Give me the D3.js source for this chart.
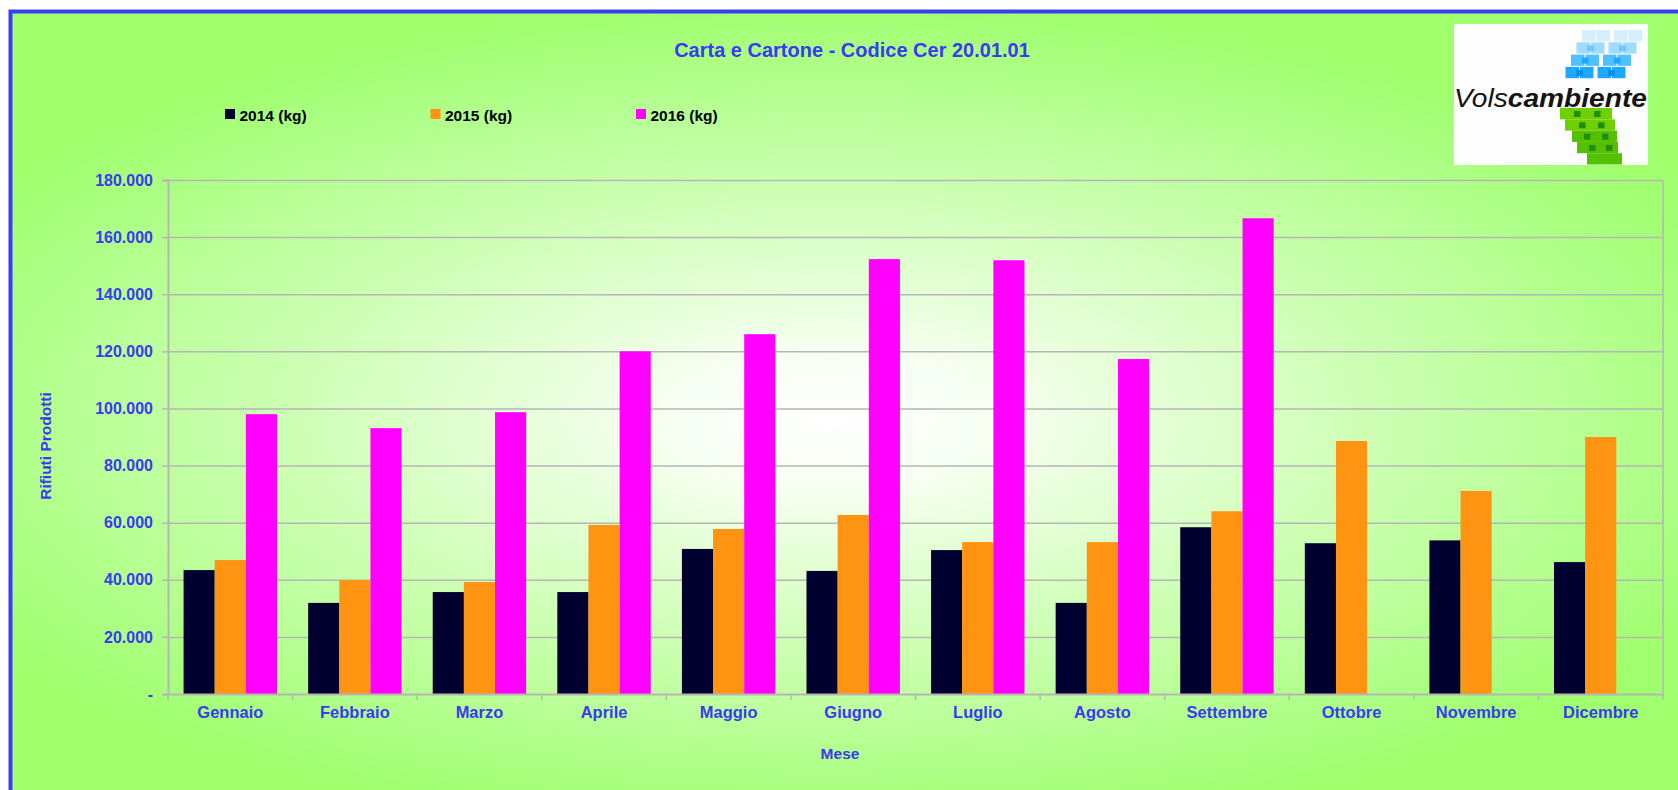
<!DOCTYPE html>
<html>
<head>
<meta charset="utf-8">
<script src="https://cdn.jsdelivr.net/npm/d3@7"></script>
<style>
  body { margin: 0; background: #fff; }
  svg { display: block; font-family: "Liberation Sans", Arial, sans-serif; }
</style>
</head>
<body>
<svg id="chart" width="1678" height="790"></svg>
<script>
// data (kg)
const months = ["Gennaio", "Febbraio", "Marzo", "Aprile", "Maggio", "Giugno",
                "Luglio", "Agosto", "Settembre", "Ottobre", "Novembre", "Dicembre"];
const series = ["2014 (kg)", "2015 (kg)", "2016 (kg)"];
const v2014 = [43400, 31900, 35700, 35700, 50800, 43100, 50400, 31900, 58400, 52800, 53800, 46200];
const v2015 = [46900, 39900, 39200, 59200, 57800, 62700, 53200, 53200, 64000, 88600, 71100, 90000];
const v2016 = [98000, 93100, 98700, 120000, 126000, 152300, 151900, 117300, 166600, null, null, null];
const yTicks = [0, 20000, 40000, 60000, 80000, 100000, 120000, 140000, 160000, 180000];
const colors = ["#000030", "#ff9412", "#ff00ff"];

const blue = "#3a3af2", grid = "#b6b6b6";

let svg = d3.select("svg#chart");

// background gradient
let defs = svg.append("defs");
let rg = defs.append("radialGradient")
    .attr("id", "bg")
    .attr("gradientUnits", "userSpaceOnUse")
    .attr("cx", 0).attr("cy", 0).attr("r", 1)
    .attr("gradientTransform", "translate(830,420) scale(1000,420)");
[[0, "#ffffff"], [0.15, "#f8fff3"], [0.5, "#d2ffbb"], [0.85, "#adff85"], [1, "#9fff6c"]]
    .forEach(s => rg.append("stop").attr("offset", s[0]).attr("stop-color", s[1]));

svg.append("rect")
    .attr("x", 10.5).attr("y", 11.5)
    .attr("width", 1800).attr("height", 900)
    .attr("fill", "url(#bg)")
    .attr("stroke", "#3c3cf6")
    .attr("stroke-width", 4);

let x0 = d3.scaleBand().domain(months).range([168, 1663]);
let bw = x0.bandwidth();
let x1 = d3.scaleBand().domain(series).range([bw / 8, bw * 7 / 8]);
let y = d3.scaleLinear().domain([0, 180000]).range([694, 180]);

let loc = d3.formatLocale({ decimal: ",", thousands: ".", grouping: [3], currency: ["", ""] });
let fmt = loc.format(",d");

// gridlines
svg.append("g")
    .attr("transform", "translate(168,0)")
    .call(d3.axisLeft(y).tickValues(yTicks.slice(1)).tickSize(-(1663 - 168)).tickFormat(""))
    .call(g => g.select(".domain").remove())
    .selectAll("line").attr("stroke", grid).attr("stroke-width", 1.5);

// right border of plot area
svg.append("line")
    .attr("x1", 1663).attr("x2", 1663)
    .attr("y1", y(180000)).attr("y2", y(0))
    .attr("stroke", grid).attr("stroke-width", 1.5);

// bars
let table = months.map((m, i) => ({ month: m, values: [v2014[i], v2015[i], v2016[i]] }));
let group = svg.selectAll(".month")
    .data(table)
    .enter()
    .append("g")
    .attr("class", "month")
    .attr("transform", d => `translate(${x0(d.month)},0)`);
group.selectAll("rect")
    .data(d => d.values.map((v, k) => ({ key: series[k], value: v, k: k })).filter(d => d.value != null))
    .enter()
    .append("rect")
    .attr("x", d => x1(d.key))
    .attr("width", x1.bandwidth())
    .attr("y", d => y(d.value))
    .attr("height", d => y(0) - y(d.value))
    .attr("fill", d => colors[d.k]);

// y axis
let yAxis = svg.append("g")
    .attr("transform", "translate(168,0)")
    .call(d3.axisLeft(y).tickValues(yTicks).tickSize(6).tickPadding(9)
        .tickFormat(d => d === 0 ? "-" : fmt(d)));
yAxis.select(".domain").attr("stroke", grid).attr("stroke-width", 2);
yAxis.selectAll("line").attr("stroke", grid).attr("stroke-width", 1.5);
yAxis.selectAll("text")
    .attr("fill", blue)
    .style("font-size", "16px")
    .style("font-weight", "bold");

// x axis
let xAxis = svg.append("g")
    .attr("transform", `translate(0,${y(0)})`)
    .call(d3.axisBottom(x0).tickSize(0).tickPadding(12));
xAxis.select(".domain").attr("stroke", grid).attr("stroke-width", 2);
xAxis.selectAll("text")
    .attr("fill", blue)
    .style("font-size", "16.5px")
    .style("font-weight", "bold");
xAxis.selectAll(".sep")
    .data(months.map(m => x0(m)).concat([x0.range()[1]]))
    .enter()
    .append("line")
    .attr("class", "sep")
    .attr("x1", d => d).attr("x2", d => d)
    .attr("y1", 0).attr("y2", 6)
    .attr("stroke", grid).attr("stroke-width", 1.5);

// titles
svg.append("text")
    .attr("x", 852).attr("y", 57)
    .attr("text-anchor", "middle")
    .attr("fill", blue)
    .style("font-size", "20px").style("font-weight", "bold")
    .text("Carta e Cartone - Codice Cer 20.01.01");

svg.append("text")
    .attr("transform", "translate(51,446) rotate(-90)")
    .attr("text-anchor", "middle")
    .attr("fill", blue)
    .style("font-size", "15.5px").style("font-weight", "bold")
    .text("Rifiuti Prodotti");

svg.append("text")
    .attr("x", 840).attr("y", 759)
    .attr("text-anchor", "middle")
    .attr("fill", blue)
    .style("font-size", "15.5px").style("font-weight", "bold")
    .text("Mese");

// legend
let legend = svg.selectAll(".legend")
    .data(series)
    .enter()
    .append("g")
    .attr("class", "legend")
    .attr("transform", (d, i) => `translate(${225 + i * 205.5},109)`);
legend.append("rect")
    .attr("width", 10).attr("height", 10)
    .attr("fill", (d, i) => colors[i]);
legend.append("text")
    .attr("x", 14.5).attr("y", 11.5)
    .attr("fill", "#000")
    .style("font-size", "15.5px").style("font-weight", "bold")
    .text(d => d);

// logo
let logo = svg.append("g").attr("transform", "translate(1454,24)");
logo.append("rect").attr("width", 194).attr("height", 141).attr("fill", "#fdfdfd");

// blue part: 4 skewed rows of cells, light on top
const blueRows = ["#d4efff", "#9fdcff", "#52c2ff", "#1ea9ff"];
const blueDark = ["#b8e4ff", "#6ccaff", "#1fa8ff", "#0a8fee"];
blueRows.forEach((c, r) => {
    let rx = 128 - r * 5.5, ry = 6 + r * 12.3;
    [0, 1, 2, 3].forEach(col => {
        let cx = rx + col * 14.5 + (col > 1 ? 3 : 0);
        logo.append("rect")
            .attr("x", cx).attr("y", ry)
            .attr("width", 13.5).attr("height", 11.3)
            .attr("fill", c);
        if (r > 0 && col % 2 === 1) {
            logo.append("rect")
                .attr("x", cx - 4).attr("y", ry + 3)
                .attr("width", 7).attr("height", 6)
                .attr("fill", blueDark[r]);
        }
    });
});

// green part: funnel of rows with darker squares on two diagonals
const greenRows = [[106, 158], [111, 161], [118, 163], [123, 164], [133, 168]];
greenRows.forEach((row, r) => {
    logo.append("rect")
        .attr("x", row[0]).attr("y", 84 + r * 11.3)
        .attr("width", row[1] - row[0]).attr("height", 11.3)
        .attr("fill", r < 2 ? "#6fd000" : "#55c000");
    [120 + r * 5, 140 + r * 4].forEach(dx => {
        if (r < 4) logo.append("rect")
            .attr("x", dx).attr("y", 87 + r * 11.3)
            .attr("width", 6.5).attr("height", 6)
            .attr("fill", "#1f8f10");
    });
});

let lt = logo.append("text")
    .attr("x", 0).attr("y", 83)
    .attr("textLength", 193).attr("lengthAdjust", "spacingAndGlyphs")
    .style("font-size", "25px").style("font-style", "italic")
    .attr("fill", "#141414");
lt.append("tspan").text("Vols");
lt.append("tspan").style("font-weight", "bold").text("cambiente");
</script>
</body>
</html>
